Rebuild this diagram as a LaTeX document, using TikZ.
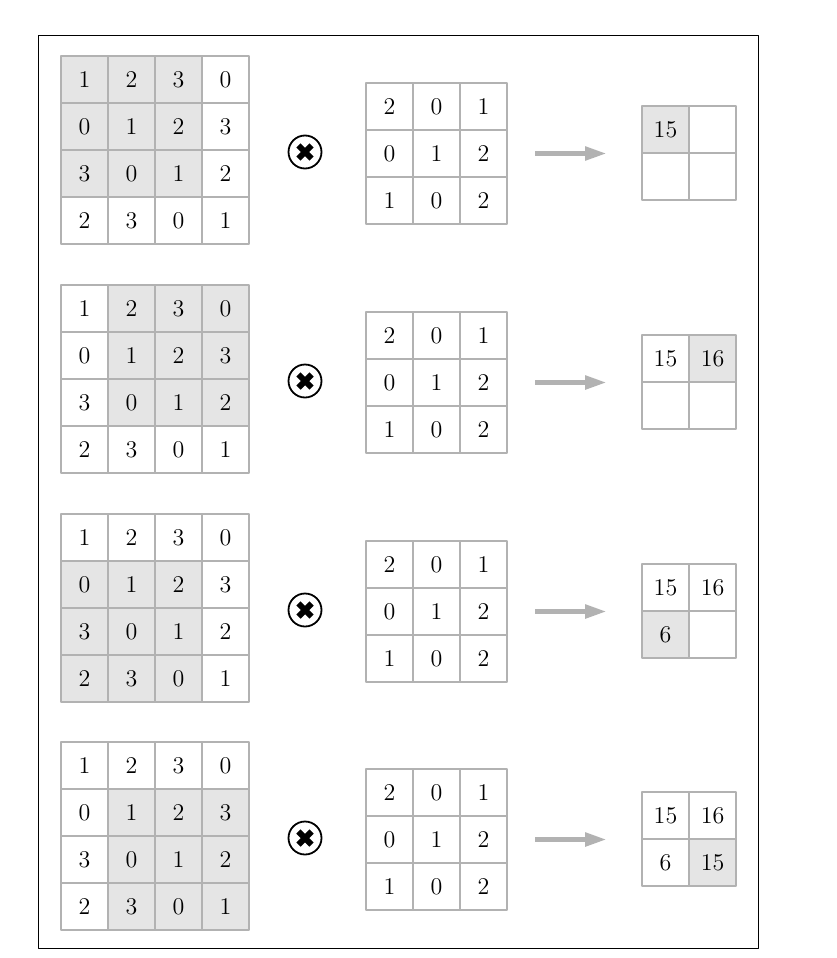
\documentclass[tikz,border=0pt]{standalone}
\usetikzlibrary{arrows.meta}
\begin{document}
\begin{tikzpicture}[x=.5pt,y=-.5pt,line join=round,
    cell/.style={draw=gray!60,line width=1pt,minimum size=23.5pt,inner sep=0pt,anchor=north west,font=\large},
    times/.style={circle,draw,line width=.9pt,minimum size=16.5pt,inner sep=0pt,
        path picture={\draw[line width=3pt](path picture bounding box.center)++(-3.3pt,-3.3pt)--++(6.6pt,6.6pt)
        (path picture bounding box.center)++(-3.3pt,3.3pt)--++(6.6pt,-6.6pt);}},
    flow/.style={draw=gray!60,line width=2.6pt,-{Triangle[length=11pt,width=6.5pt]},shorten <=13.5pt,shorten >=17pt}]
    \useasboundingbox(0,0)rectangle(836,958);
    \draw[line width=.5pt](38,35)rectangle(758,948);
    \foreach \p/\t/\a/\b in{1/55/0/0,2/284/0/1,3/513/1/0,4/741/1/1}{
        \foreach \row[count=\i] in{{1,2,3,0},{0,1,2,3},{3,0,1,2},{2,3,0,1}}
        \foreach \v[count=\j] in \row{
            \pgfmathtruncatemacro\hl{(\i>\a)&&(\i<\a+4)&&(\j>\b)&&(\j<\b+4)}
            \ifnum\hl=1 \def\fc{gray!20}\else\def\fc{white}\fi
            \node[cell,fill=\fc](in\p-\i\j)at(13+47*\j,\t-47+47*\i){\v};
        }
        \foreach \row[count=\i] in{{2,0,1},{0,1,2},{1,0,2}}
        \foreach \v[count=\j] in \row
        \node[cell](ker\p-\i\j)at(318+47*\j,\t-20+47*\i){\v};
        \foreach \v[count=\k] in{15,16,6,15}{
            \pgfmathtruncatemacro\oi{int((\k-1)/2)}
            \pgfmathtruncatemacro\oj{mod(\k-1,2)}
            \ifnum\k=\p \def\fc{gray!20}\else\def\fc{white}\fi
            \node[cell,fill=\fc](out\p-\k)at(641+47*\oj,\t+50+47*\oi){\ifnum\k>\p\else\v\fi};
        }
        \node[times](op\p)at(305,\t+97){};
        \draw[flow](ker\p-23.east)--(ker\p-23.east-|out\p-1.west);
    }
\end{tikzpicture}
\end{document}
